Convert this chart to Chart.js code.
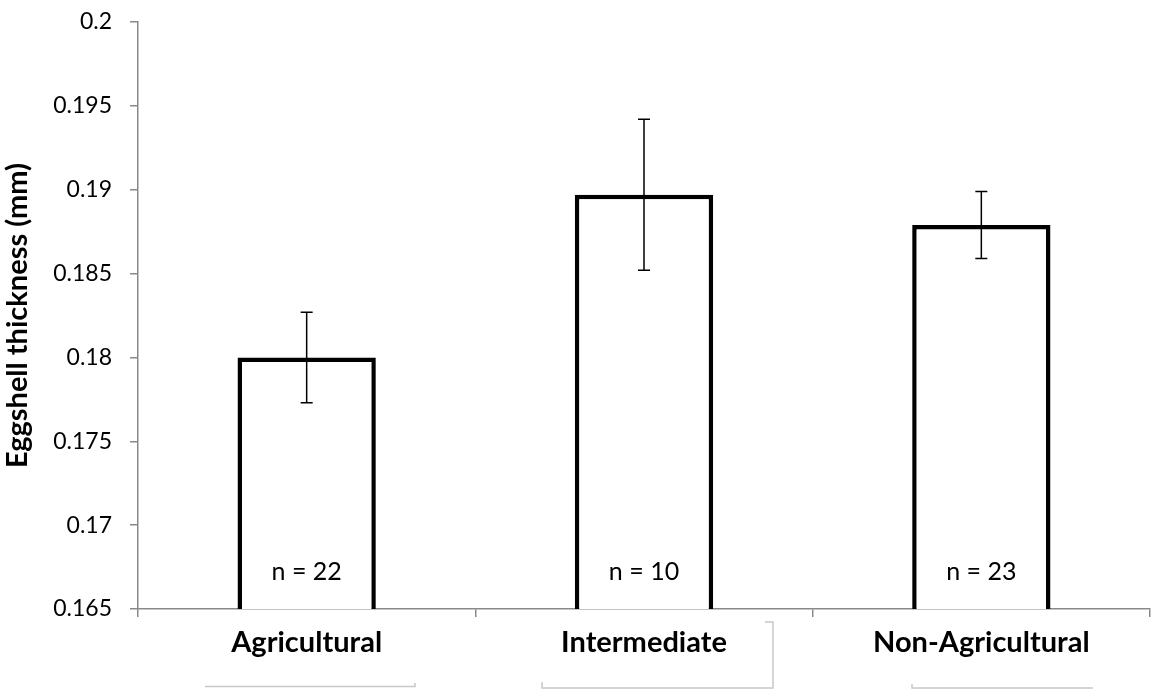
<!DOCTYPE html>
<html>
<head>
<meta charset="utf-8">
<script src="https://cdn.jsdelivr.net/npm/chart.js@4/dist/chart.umd.min.js"></script>
<style>
html,body{margin:0;padding:0;background:#fff;}
#wrap{width:1152px;height:698px;position:relative;}
</style>
</head>
<body>
<div id="wrap"><canvas id="c" width="1152" height="698"></canvas></div>
<script>
const categories = ["Agricultural", "Intermediate", "Non-Agricultural"];
const means = [0.1800, 0.1897, 0.1879];
const errors = [0.0027, 0.0045, 0.0020];
const sampleLabels = ["n = 22", "n = 10", "n = 23"];
const yMin = 0.165, yMax = 0.2, yStep = 0.005;
const yTitle = "Eggshell thickness (mm)";

const FONT = "Lato, 'Open Sans', sans-serif";

const errorBarPlugin = {
  id: 'errorBars',
  afterDatasetsDraw(chart) {
    const ctx = chart.ctx;
    const y = chart.scales.y;
    const meta = chart.getDatasetMeta(0);
    ctx.save();
    ctx.strokeStyle = '#000';
    ctx.lineWidth = 1.5;
    meta.data.forEach((bar, i) => {
      const x = bar.x;
      const top = y.getPixelForValue(means[i] + errors[i]);
      const bot = y.getPixelForValue(means[i] - errors[i]);
      ctx.beginPath();
      ctx.moveTo(x, top); ctx.lineTo(x, bot);
      ctx.moveTo(x - 6, top); ctx.lineTo(x + 6, top);
      ctx.moveTo(x - 6, bot); ctx.lineTo(x + 6, bot);
      ctx.stroke();
    });
    ctx.fillStyle = '#000';
    ctx.font = "25px " + FONT;
    ctx.textAlign = 'center';
    ctx.textBaseline = 'middle';
    const base = y.getPixelForValue(yMin);
    meta.data.forEach((bar, i) => {
      ctx.fillText(sampleLabels[i], bar.x, base - 37);
    });
    ctx.restore();
  },
  afterDraw(chart) {
    const ctx = chart.ctx;
    ctx.save();
    ctx.strokeStyle = '#c8c8c8';
    ctx.lineWidth = 1.5;
    ctx.beginPath();
    ctx.moveTo(205, 686.5); ctx.lineTo(415, 686.5); ctx.lineTo(415, 683);
    ctx.moveTo(542, 682); ctx.lineTo(542, 688); ctx.lineTo(773, 688); ctx.lineTo(773, 622); ctx.lineTo(765, 622);
    ctx.moveTo(912, 684); ctx.lineTo(912, 688); ctx.lineTo(1093, 688);
    ctx.stroke();
    ctx.restore();
  }
};

new Chart(document.getElementById('c'), {
  type: 'bar',
  data: {
    labels: categories,
    datasets: [{
      data: means,
      backgroundColor: '#ffffff',
      borderColor: '#000000',
      borderWidth: 4.5,
      borderSkipped: false,
      barPercentage: 0.82,
      categoryPercentage: 0.5
    }]
  },
  options: {
    responsive: false,
    animation: false,
    devicePixelRatio: 1,
    layout: { padding: { top: 22, right: 2, left: 0, bottom: 0 } },
    plugins: { legend: { display: false }, tooltip: { enabled: false } },
    scales: {
      x: {
        offset: true,
        grid: { offset: true, drawOnChartArea: false, drawTicks: true, tickLength: 8, color: '#898989', lineWidth: 1.5 },
        border: { color: '#898989', width: 1.5 },
        ticks: { color: '#000', font: { family: FONT, size: 29, weight: 'bold' }, padding: 8 },
        afterFit(scale) { scale.height = 89; scale.paddingLeft = 0; scale.paddingRight = 0; }
      },
      y: {
        min: yMin, max: yMax,
        grid: { drawOnChartArea: false, drawTicks: true, tickLength: 8, color: '#898989', lineWidth: 1.5 },
        border: { color: '#898989', width: 1.5 },
        ticks: {
          stepSize: yStep,
          color: '#000',
          font: { family: FONT, size: 23 },
          padding: 18,
          callback: (v) => String(+Number(v).toFixed(3))
        },
        title: { display: true, text: yTitle, color: '#000', font: { family: FONT, size: 29, weight: 'bold' }, padding: { top: 0, bottom: 0 } },
        afterFit(scale) { scale.width = 138; scale.paddingTop = 0; scale.paddingBottom = 0; }
      }
    }
  },
  plugins: [errorBarPlugin]
});
</script>
</body>
</html>
